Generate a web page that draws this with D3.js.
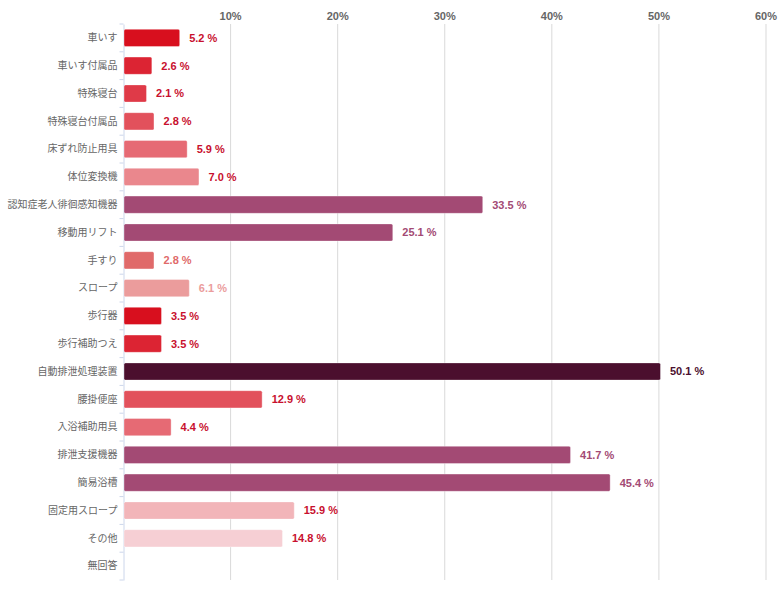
<!DOCTYPE html>
<html><head><meta charset="utf-8">
<script src="https://cdn.jsdelivr.net/npm/d3@7"></script>
<style>
body{margin:0;background:#fff;}
svg{display:block;font-family:"Noto Sans CJK JP","Liberation Sans",sans-serif;}
</style></head>
<body><svg id="c" width="780" height="591"></svg>
<script>
const categories = ["車いす","車いす付属品","特殊寝台","特殊寝台付属品","床ずれ防止用具","体位変換機","認知症老人徘徊感知機器","移動用リフト","手すり","スロープ","歩行器","歩行補助つえ","自動排泄処理装置","腰掛便座","入浴補助用具","排泄支援機器","簡易浴槽","固定用スロープ","その他","無回答"];
const values = [5.2,2.6,2.1,2.8,5.9,7.0,33.5,25.1,2.8,6.1,3.5,3.5,50.1,12.9,4.4,41.7,45.4,15.9,14.8,null];
const barColors = ["#d80f1e","#dc2433","#df3a48","#e2515c","#e66a74","#ea878d","#a34a74","#a34a74","#e06a6a","#eb9c9c","#d80f1e","#dc2433","#4b0f2e","#e2515c","#e66a74","#a34a74","#a34a74","#f2b5b9","#f6cfd4",null];
const labelColors = ["#c8102e","#c8102e","#c8102e","#c8102e","#c8102e","#c8102e","#a34a74","#a34a74","#e06a6a","#eb9c9c","#c8102e","#c8102e","#4b0f2e","#c8102e","#c8102e","#a34a74","#a34a74","#c8102e","#c8102e",null];
const tickValues = [10,20,30,40,50,60];

const svg = d3.select("#c");
const x = d3.scaleLinear().domain([0,60]).range([123.5,766]);
const y = d3.scaleBand().domain(categories).range([24,580]).paddingInner(0.38).paddingOuter(0.19);

// grid
svg.append("g").selectAll("line").data(tickValues).join("line")
  .attr("x1",d=>x(d)).attr("x2",d=>x(d)).attr("y1",24).attr("y2",580)
  .attr("stroke","#d9d9d9").attr("stroke-width",1);

// top labels
svg.append("g").selectAll("text").data(tickValues).join("text")
  .attr("x",d=>x(d)).attr("y",20).attr("text-anchor","middle")
  .attr("font-size",11).attr("font-weight","bold").attr("fill","#666")
  .attr("font-family","Liberation Sans, Arial, sans-serif")
  .text(d=>d+"%");

// left axis
const yAxis = d3.axisLeft(y).tickSize(0).tickPadding(6);
const ga = svg.append("g").attr("transform",`translate(${x(0)},0)`).call(yAxis);
ga.select(".domain").attr("stroke","#ccd6eb");
ga.selectAll("text").attr("font-size",10).attr("fill","#666").attr("font-family","Noto Sans CJK JP, sans-serif");
// tick marks between categories
const step = y.step();
const bounds = d3.range(categories.length+1).map(i=>24+i*step);
ga.append("g").selectAll("line").data(bounds).join("line")
  .attr("x1",-4).attr("x2",0).attr("y1",d=>d).attr("y2",d=>d)
  .attr("stroke","#ccd6eb");

const data = categories.map((c,i)=>({c,v:values[i],fill:barColors[i],lc:labelColors[i]})).filter(d=>d.v!=null);

svg.append("g").selectAll("rect").data(data).join("rect")
  .attr("x",x(0)+0.5).attr("y",d=>y(d.c))
  .attr("width",d=>x(d.v)-x(0)).attr("height",y.bandwidth())
  .attr("rx",1.5).attr("fill",d=>d.fill)
  .attr("stroke","#ffffff").attr("stroke-opacity",0.35).attr("stroke-width",1);

svg.append("g").selectAll("text").data(data).join("text")
  .attr("x",d=>x(d.v)+10).attr("y",d=>y(d.c)+y.bandwidth()/2)
  .attr("dy","0.35em").attr("font-size",11).attr("font-weight","bold")
  .attr("font-family","Liberation Sans, Arial, sans-serif")
  .attr("fill",d=>d.lc)
  .text(d=>d.v.toFixed(1)+" %");
</script></body></html>
